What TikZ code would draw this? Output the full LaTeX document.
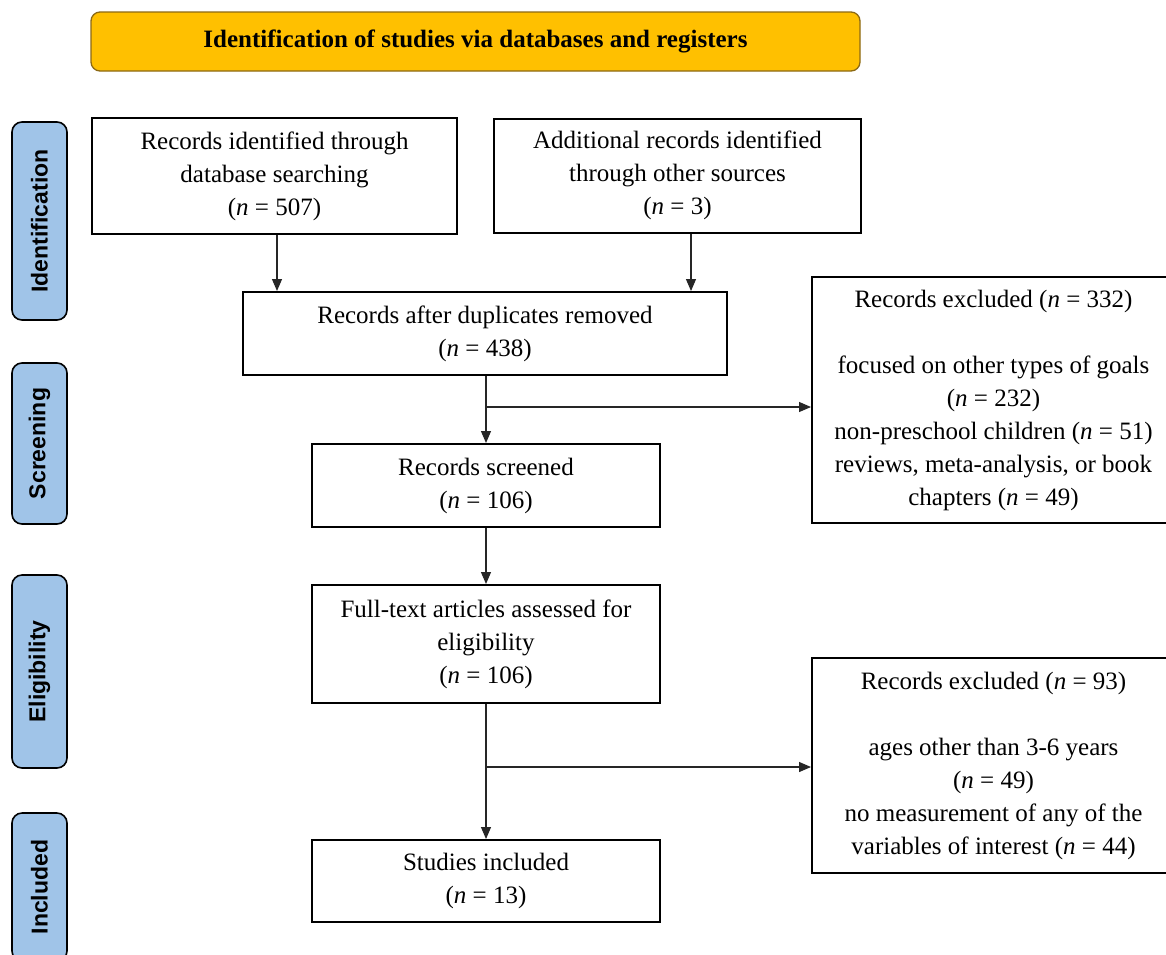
\documentclass[tikz,border=0pt]{standalone}
\usepackage{fontspec}
\setmainfont{Liberation Serif}
\newfontfamily\labfont{Liberation Sans}
\usetikzlibrary{arrows.meta,calc}
\definecolor{hdrfill}{RGB}{255,192,0}
\definecolor{hdrdraw}{RGB}{140,105,20}
\definecolor{labfill}{RGB}{160,196,232}
\newcommand{\nn}{\textit{n}}
\begin{document}
\begin{tikzpicture}[x=1pt,y=-1pt,
 box/.style={draw=black,line width=2pt,fill=white,align=center,inner sep=0pt,font=\fontsize{25}{33}\selectfont},
 hdr/.style={draw=hdrdraw,line width=1.3pt,fill=hdrfill,rounded corners=9pt,inner sep=0pt,minimum width=769pt,minimum height=59pt,font=\bfseries\fontsize{25}{30}\selectfont},
 phase/.style={draw=black,line width=1.6pt,fill=labfill,rounded corners=10pt,inner sep=0pt,rotate=90,minimum height=55pt,font=\labfont\bfseries\fontsize{23}{28}\selectfont},
 conn/.style={line width=1.2pt,draw=black!85},
 arr/.style={conn,-{Triangle[length=12pt,width=10pt]}},
]
\useasboundingbox (0,0) rectangle (1166,954);
\clip (0,0) rectangle (1166,954);
\fill[white] (0,0) rectangle (1166,954);

% header
\node[hdr] (hdr) at (475.5,41.5) {Identification of studies via databases and registers};

% phase labels
\node[phase,minimum width=198pt] (p1) at (39.5,221) {Identification};
\node[phase,minimum width=161pt] (p2) at (39.5,443.5) {Screening};
\node[phase,minimum width=193pt] (p3) at (39.5,671.5) {Eligibility};
\node[phase,minimum width=148pt] (p4) at (39.5,887) {Included};

% boxes
\node[box,minimum width=365pt,minimum height=116pt] (b1) at (274.5,176) {Records identified through\\database searching\\(\nn{} = 507)};
\node[box,minimum width=367pt,minimum height=114pt] (b2) at (677.5,175.5) {Additional records identified\\through other sources\\(\nn{} = 3)};
\node[box,minimum width=484pt,minimum height=83pt] (b3) at (485,333.5) {Records after duplicates removed\\(\nn{} = 438)};
\node[box,minimum width=348pt,minimum height=83pt] (b4) at (486,485.5) {Records screened\\(\nn{} = 106)};
\node[box,minimum width=348pt,minimum height=118pt] (b5) at (486,644) {Full-text articles assessed for\\eligibility\\(\nn{} = 106)};
\node[box,minimum width=348pt,minimum height=82pt] (b6) at (486,881) {Studies included\\(\nn{} = 13)};
\node[box,minimum width=363pt,minimum height=246pt] (r1) at (993.5,400) {Records excluded (\nn{} = 332)\\[33pt]focused on other types of goals\\(\nn{} = 232)\\non-preschool children (\nn{} = 51)\\reviews, meta-analysis, or book\\chapters (\nn{} = 49)};
\node[box,minimum width=363pt,minimum height=215pt] (r2) at (993.5,765.5) {Records excluded (\nn{} = 93)\\[33pt]ages other than 3-6 years\\(\nn{} = 49)\\no measurement of any of the\\variables of interest (\nn{} = 44)};

% connectors
\draw[arr] ([xshift=2.5pt]b1.south) -- ([xshift=2.5pt]b1.south |- b3.north);
\draw[arr] ([xshift=13.5pt]b2.south) -- ([xshift=13.5pt]b2.south |- b3.north);
\coordinate (j1) at (486,407);
\coordinate (j2) at (486,767);
\draw[arr] (b3.south -| b4.north) -- (b4.north);
\draw[arr] (j1) -- (j1 -| r1.west);
\draw[arr] (b4.south) -- (b5.north);
\draw[arr] (b5.south) -- (b6.north);
\draw[arr] (j2) -- (j2 -| r2.west);
\end{tikzpicture}
\end{document}
